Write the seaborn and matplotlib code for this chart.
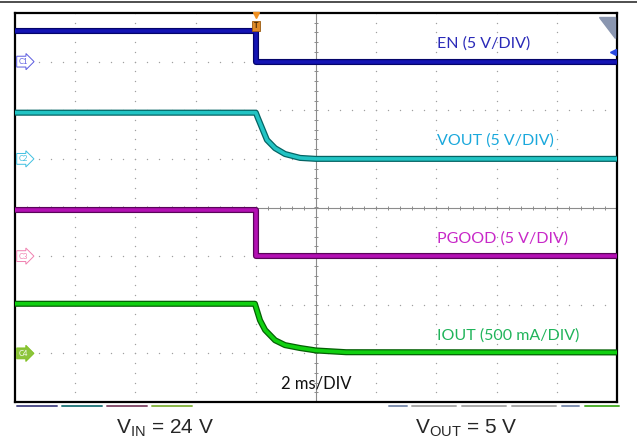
import pandas as pd
import matplotlib.pyplot as plt
import matplotlib.lines as mlines
import seaborn as sns
import numpy as np

# --- waveform data (time in ms) ---
t_en = [-10, -2, -2, 10]
en_v = [3.15, 3.15, 0, 0]

t_vout = [-10, -2.0, -1.93, -1.79, -1.63, -1.36, -1.03, -0.53, 0, 10]
vout_v = [4.75, 4.75, 4.2, 3.15, 1.95, 1.1, 0.5, 0.1, 0, 0]

t_pg = [-10, -2, -2, 10]
pg_v = [4.75, 4.75, 0, 0]

t_iout = [-10, -2.03, -1.86, -1.69, -1.36, -1.03, -0.53, 0, 1, 10]
iout_ma = [510, 510, 340, 240, 135, 85, 55, 30, 12, 10]

# channel: (tag, time, values, ground offset in div, units per div, colors, label)
channels = [
    ("C1", t_en, en_v, 3.0, 5.0, "#1414b4", "#04046a", "#2a2ab8", "EN (5 V/DIV)"),
    ("C2", t_vout, vout_v, 1.0, 5.0, "#22c4c4", "#046464", "#1aa8dc", "VOUT (5 V/DIV)"),
    ("C3", t_pg, pg_v, -1.0, 5.0, "#b410b4", "#5a045a", "#c828c8", "PGOOD (5 V/DIV)"),
    ("C4", t_iout, iout_ma, -3.0, 500.0, "#10d010", "#046004", "#20b45a", "IOUT (500 mA/DIV)"),
]
tag_edge = {"C1": "#5a5ae0", "C2": "#40c0e0", "C3": "#f080b0", "C4": "#80c020"}

sns.set_style("white")
plt.rcParams["font.family"] = ["Lato", "DejaVu Sans"]
plt.rcParams["mathtext.fontset"] = "custom"
plt.rcParams["mathtext.rm"] = "Liberation Sans"

fig = plt.figure(figsize=(6.37, 4.45), dpi=100)
ax = fig.add_axes([15 / 637, 1 - 402 / 445, 602 / 637, 389 / 445])
ax.set_xlim(-10, 10)
ax.set_ylim(-4, 4)

# dotted graticule
xs_major = np.arange(-10, 10.1, 2)
ys_major = np.arange(-4, 4.1, 1)
xs_minor = np.arange(-10, 10.01, 0.4)
ys_minor = np.arange(-4, 4.01, 0.2)
for x in xs_major[1:-1]:
    if x != 0:
        ax.scatter(np.full_like(ys_minor, x), ys_minor, s=1.0, color="#a0a0a0", lw=0, zorder=1)
for y in ys_major[1:-1]:
    if y != 0:
        ax.scatter(xs_minor, np.full_like(xs_minor, y), s=1.0, color="#a0a0a0", lw=0, zorder=1)
# center crosshair with minor ticks
ax.axhline(0, color="#8c8c8c", lw=0.8, zorder=1)
ax.axvline(0, color="#8c8c8c", lw=0.8, zorder=1)
ax.scatter(xs_minor, np.zeros_like(xs_minor), marker="|", s=12, color="#8c8c8c", lw=0.7, zorder=1)
ax.scatter(np.zeros_like(ys_minor), ys_minor, marker="_", s=12, color="#8c8c8c", lw=0.7, zorder=1)

for name, t, vals, off, scale, col, dark, tcol, label in channels:
    df = pd.DataFrame({"t": t, "div": off + np.array(vals) / scale})
    sns.lineplot(data=df, x="t", y="div", ax=ax, color=dark, lw=4.4, sort=False,
                 estimator=None, zorder=3)
    sns.lineplot(data=df, x="t", y="div", ax=ax, color=col, lw=2.6, sort=False,
                 estimator=None, zorder=4)
    # label on the right
    ax.text(4.02, off + 0.37, label, color=tcol, fontsize=11.5, va="center", ha="left", zorder=5)
    # ground tag at left edge
    fc = "#8cc43c" if name == "C4" else "white"
    tc = "white" if name == "C4" else tag_edge[name]
    ax.text(-9.88, off, name, fontsize=5.5, color=tc, va="center", ha="left", zorder=6,
            bbox=dict(boxstyle="rarrow,pad=0.25", fc=fc, ec=tag_edge[name], lw=0.7))

ax.text(0, -3.61, "2 ms/DIV", fontsize=12, color="#111111", ha="center", va="center", zorder=5)

# trigger marker
ax.plot([-2], [3.95], marker="v", ms=5, color="#f09020", clip_on=False, zorder=7)
ax.text(-2, 3.74, "T", fontsize=5.5, fontweight="bold", color="#3a2000", ha="center", va="center",
        zorder=7, bbox=dict(boxstyle="square,pad=0.2", fc="#e08a28", ec="#9a5a10", lw=0.6))

# top-right corner widget and offset arrow
ax.fill([0.9702, 0.997, 0.997], [0.9895, 0.9895, 0.935], color="#8a96b0",
        transform=ax.transAxes, zorder=6, clip_on=False)
ax.plot([0.994], [0.9], marker="<", ms=4, color="#2a4ae0", transform=ax.transAxes,
        clip_on=False, zorder=6)

ax.set_xticks([])
ax.set_yticks([])
ax.set_xlabel("")
ax.set_ylabel("")
for s in ax.spines.values():
    s.set_color("black")
    s.set_linewidth(1.6)

# thin line at the very top and channel bars under the screen
fig.add_artist(mlines.Line2D([0, 1], [1 - 1.5 / 445] * 2, color="#303030", lw=1.2))
bars = [(17, 57, "#50508a"), (62, 102, "#2c7c80"), (107, 147, "#86506e"), (152, 192, "#8ab848"),
        (389, 407, "#8090b0"), (412, 456, "#a8a8a8"), (462, 506, "#a8a8a8"), (512, 556, "#a8a8a8"),
        (562, 579, "#8090b0"), (585, 619, "#50b030")]
for x0, x1, c in bars:
    fig.add_artist(mlines.Line2D([x0 / 637, x1 / 637], [1 - 406 / 445] * 2, color=c, lw=1.4))

fig.text(165 / 637, 1 - 428 / 445, r"V$_{\mathrm{IN}}$ = 24 V", fontsize=15,
         family="Liberation Sans", ha="center", va="center")
fig.text(466 / 637, 1 - 428 / 445, r"V$_{\mathrm{OUT}}$ = 5 V", fontsize=15,
         family="Liberation Sans", ha="center", va="center")

fig.savefig("out.png", dpi=100)
plt.close(fig)
